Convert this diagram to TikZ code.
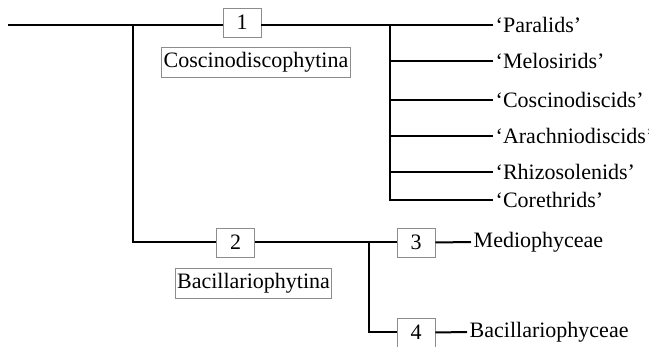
\documentclass[tikz,border=0pt]{standalone}
\usepackage{fontspec}
\setmainfont{Liberation Serif}
\begin{document}
\begin{tikzpicture}[x=1pt,y=-1pt,
  branch/.style={line width=2pt, line join=miter},
  numbox/.style={draw=black!45, line width=0.9pt, minimum width=38pt,
    minimum height=29pt, inner sep=0pt, font=\fontsize{22}{24}\selectfont},
  namebox/.style={draw=black!45, line width=0.9pt, inner xsep=2pt,
    minimum height=30pt, font=\fontsize{22}{24}\selectfont},
  taxon/.style={anchor=west, inner sep=2.5pt, font=\fontsize{22}{24}\selectfont}]
\useasboundingbox (0,0) rectangle (649,347);

% upper subtree: Coscinodiscophytina
\coordinate (start) at (8,25);
\coordinate (root) at (133,25);
\coordinate (hub) at (390,25);
\node[numbox] (b1) at (242,22.5) {1};
\node[namebox] (cname) at (256,62) {Coscinodiscophytina};
\node[taxon] (par) at (493,25) {‘Paralids’};
\node[taxon] (mel) at (493,61) {‘Melosirids’};
\node[taxon] (cos) at (493,100) {‘Coscinodiscids’};
\node[taxon] (ara) at (493,136) {‘Arachniodiscids’};
\node[taxon] (rhi) at (493,172) {‘Rhizosolenids’};
\node[taxon] (cor) at (493,200) {‘Corethrids’};

% lower subtree: Bacillariophytina
\node[numbox] (b2) at (235.5,242.5) {2};
\node[namebox] (bname) at (253.5,283.5) {Bacillariophytina};
\node[numbox] (b3) at (416,242.5) {3};
\node[numbox] (b4) at (416,332.5) {4};
\coordinate (split) at (369,242);
\node[taxon] (med) at (471,242) {Mediophyceae};
\node[taxon] (bac) at (467,332) {Bacillariophyceae};

% connectors
\draw[branch] (start) -- (root -| b1.west);
\draw[branch] (root -| b1.east) -- (par.west);
\draw[branch] (hub) -- (hub |- cor.west) -- (cor.west);
\foreach \t in {mel,cos,ara,rhi}
  \draw[branch] (hub |- \t.west) -- (\t.west);
\draw[branch] (root) |- (b2.west);
\draw[branch] (b2.east) -- (b3.west);
\draw[branch] (split) |- (b4.west);
\draw[branch] (b3.east) -- (med.west);
\draw[branch] (b4.east) -- (bac.west);
\end{tikzpicture}
\end{document}
